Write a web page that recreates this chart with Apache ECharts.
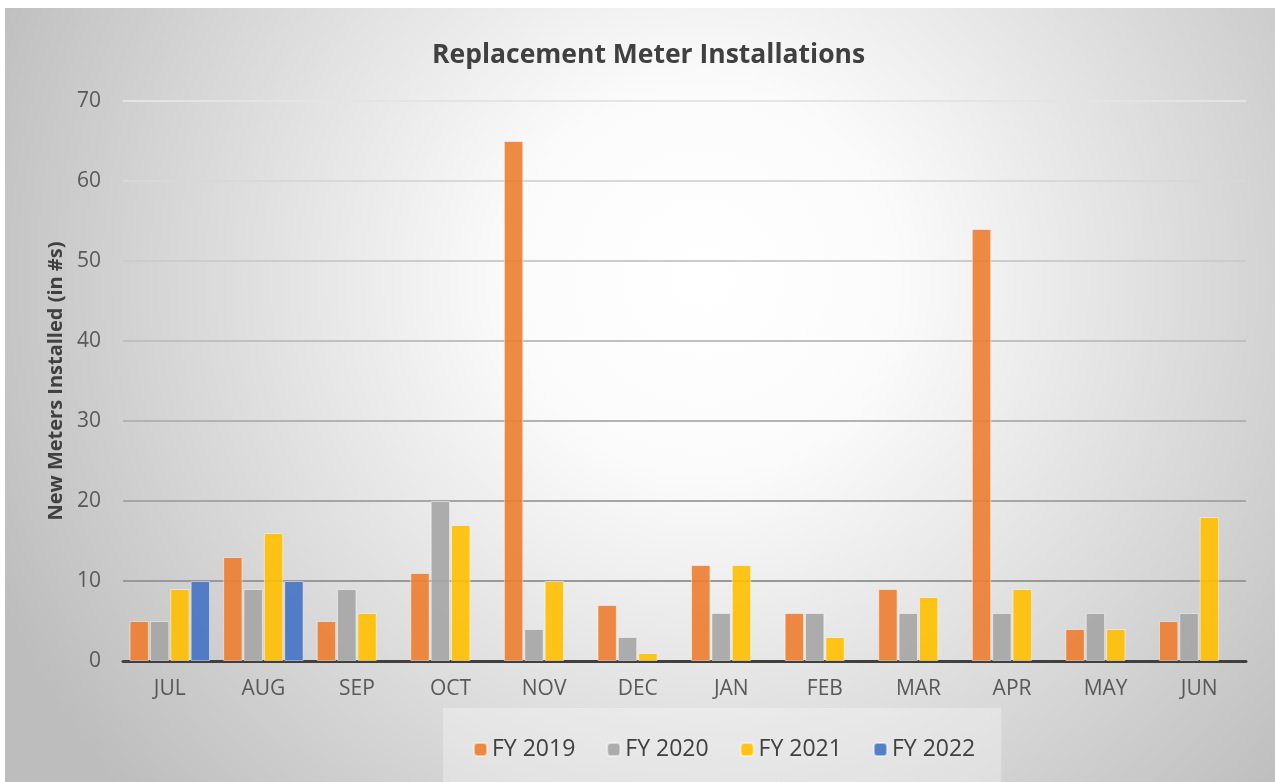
<!DOCTYPE html>
<html lang="en">
<head>
    <meta charset="UTF-8">
    <title>Replacement Meter Installations</title>
    <script src="https://cdn.jsdelivr.net/npm/echarts@6/dist/echarts.min.js"></script>
    <style>
        html, body { margin: 0; padding: 0; background: #ffffff; }
        #chart { position: absolute; left: 5px; top: 8px; width: 1270px; height: 774px; }
    </style>
</head>
<body>
    <div id="chart"></div>
</body>
<script type="text/javascript">

    // months on the x axis
    const months = ['JUL', 'AUG', 'SEP', 'OCT', 'NOV', 'DEC', 'JAN', 'FEB', 'MAR', 'APR', 'MAY', 'JUN'];

    // values per fiscal year
    const fy2019 = [5, 13, 5, 11, 65, 7, 12, 6, 9, 54, 4, 5];
    const fy2020 = [5, 9, 9, 20, 4, 3, 6, 6, 6, 6, 6, 6];
    const fy2021 = [9, 16, 6, 17, 10, 1, 12, 3, 8, 9, 4, 18];
    const fy2022 = [10, 10, null, null, null, null, null, null, null, null, null, null];

    const seriesNames = ['FY 2019', 'FY 2020', 'FY 2021', 'FY 2022'];
    const seriesColors = ['#ED7D31', '#A5A5A5', '#FFC000', '#4472C4'];

    // gridline colours, bottom (0) to top (70): they fade out upwards
    const gridColors = ['#404040', '#999999', '#a6a6a6', '#b3b3b3', '#c0c0c0', '#cccccc', '#d8d8d8', '#e4e4e4'];

    let chart = echarts.init(document.getElementById('chart'));

    function makeBar(name, data, color) {
        return {
            name: name,
            type: 'bar',
            data: data,
            barGap: '5%',
            barCategoryGap: '14%',
            itemStyle: {
                color: color,
                opacity: 0.9,
                borderColor: 'rgba(255,255,255,0.55)',
                borderWidth: 1
            }
        };
    }

    let option = {
        backgroundColor: {
            type: 'radial',
            x: 0.55,
            y: 0.35,
            r: 1.0,
            colorStops: [
                { offset: 0, color: '#ffffff' },
                { offset: 0.25, color: '#fbfbfb' },
                { offset: 1, color: '#bdbdbd' }
            ]
        },
        textStyle: { fontFamily: 'Open Sans' },
        title: {
            text: 'Replacement Meter Installations',
            left: 422,
            top: 29,
            textStyle: {
                fontFamily: 'Open Sans',
                fontSize: 26.5,
                fontWeight: 'bold',
                color: '#404040'
            }
        },
        legend: {
            data: seriesNames,
            bottom: 0,
            left: 438,
            itemWidth: 13,
            itemHeight: 13,
            itemGap: 31,
            padding: [30, 26, 21, 30],
            backgroundColor: 'rgba(255,255,255,0.3)',
            textStyle: {
                fontFamily: 'Open Sans',
                fontSize: 23,
                color: '#404040'
            }
        },
        grid: {
            left: 118,
            right: 29,
            top: 93,
            bottom: 121
        },
        xAxis: {
            type: 'category',
            data: months,
            axisTick: { show: false },
            axisLine: { lineStyle: { color: '#404040', width: 3 } },
            axisLabel: {
                margin: 18,
                fontSize: 21,
                color: '#595959'
            }
        },
        yAxis: {
            type: 'value',
            min: 0,
            max: 70,
            interval: 10,
            name: 'New Meters Installed (in #s)',
            nameLocation: 'middle',
            nameGap: 56,
            nameTextStyle: {
                fontSize: 20,
                fontWeight: 'bold',
                color: '#404040'
            },
            axisLabel: {
                margin: 22,
                fontSize: 21,
                color: '#595959'
            },
            splitLine: {
                lineStyle: { color: gridColors, width: 2 }
            }
        },
        series: [
            makeBar(seriesNames[0], fy2019, seriesColors[0]),
            makeBar(seriesNames[1], fy2020, seriesColors[1]),
            makeBar(seriesNames[2], fy2021, seriesColors[2]),
            makeBar(seriesNames[3], fy2022, seriesColors[3])
        ]
    };

    chart.setOption(option);

</script>
</html>
